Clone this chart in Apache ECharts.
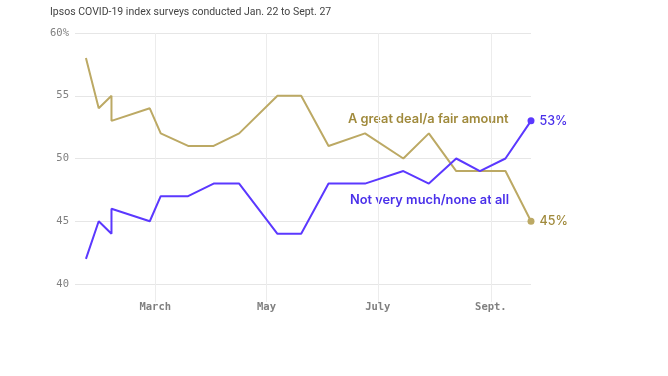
<!DOCTYPE html>
<html>
<head>
<meta charset="utf-8">
<script src="https://cdn.jsdelivr.net/npm/echarts@6/dist/echarts.min.js"></script>
<style>
  html, body { margin: 0; padding: 0; background: #fff; }
  #chart { width: 668px; height: 376px; }
</style>
</head>
<body>
<div id="chart"></div>
<script>
// survey dates (two waves on Feb. 6 give the vertical jump)
const surveyDates = [
  "2020-01-23", "2020-01-30", "2020-02-06", "2020-02-06", "2020-02-27",
  "2020-03-04", "2020-03-19", "2020-04-02", "2020-04-16", "2020-05-07",
  "2020-05-20", "2020-06-04", "2020-06-24", "2020-07-15", "2020-07-29",
  "2020-08-13", "2020-08-26", "2020-09-09", "2020-09-23",
];
const greatDeal = [58, 54, 55, 53, 54, 52, 51, 51, 52, 55, 55, 51, 52, 50, 52, 49, 49, 49, 45];
const notMuch = [42, 45, 44, 46, 45, 47, 47, 48, 48, 44, 44, 48, 48, 49, 48, 50, 49, 50, 53];

const tickDates = ["2020-03-01", "2020-05-01", "2020-07-01", "2020-09-01"];
const tickLabels = ["March", "May", "July", "Sept."];
const yTicks = [40, 45, 50, 55, 60];

const axisStart = "2020-01-17";
const axisEnd = "2020-09-23";

const GOLD = "#bca964";
const GOLD_TEXT = "#a08a3c";
const BLUE = "#5b38ff";
const BLUE_TEXT = "#4a30ea";

// one category per day so spacing follows the calendar
function dayList(start, end) {
  const out = [];
  let d = new Date(start + "T00:00:00Z");
  const stop = new Date(end + "T00:00:00Z");
  while (d <= stop) {
    out.push(d.toISOString().slice(0, 10));
    d = new Date(d.getTime() + 86400000);
  }
  return out;
}
const days = dayList(axisStart, axisEnd);
const isTick = (index, value) => tickDates.indexOf(value) >= 0;

function pairs(values) {
  return values.map((v, i) => [surveyDates[i], v]);
}

function lastPoint(values, color) {
  const i = values.length - 1;
  return {
    symbol: "circle",
    symbolSize: 7,
    silent: true,
    data: [{
      coord: [surveyDates[i], values[i]],
      itemStyle: { color: color },
      label: {
        show: true,
        position: "right",
        distance: 5,
        formatter: values[i] + "%",
        color: color === GOLD ? GOLD_TEXT : BLUE_TEXT,
        fontFamily: "Inter",
        fontSize: 12.5,
        fontWeight: 500,
      },
    }],
  };
}

const chart = echarts.init(document.getElementById("chart"));

const option = {
  animation: false,
  grid: { left: 75, right: 137, top: 33, bottom: 92 },
  title: {
    text: "Ipsos COVID-19 index surveys conducted Jan. 22 to Sept. 27",
    left: 45,
    top: 2,
    textStyle: { fontFamily: "Roboto", fontSize: 10.5, fontWeight: 400, color: "#444" },
  },
  graphic: [
    {
      type: "text",
      left: 348,
      top: 113,
      style: { text: "A great deal/a fair amount", fill: GOLD_TEXT, font: "600 12.8px Inter" },
    },
    {
      type: "text",
      left: 350,
      top: 194,
      style: { text: "Not very much/none at all", fill: BLUE_TEXT, font: "600 12.8px Inter" },
    },
  ],
  xAxis: {
    type: "category",
    data: days,
    boundaryGap: false,
    axisLine: { show: false },
    axisTick: { show: true, interval: isTick, length: 18, lineStyle: { color: "#ececec" } },
    splitLine: { show: true, interval: isTick, lineStyle: { color: "#ececec" } },
    axisLabel: {
      interval: isTick,
      margin: 18,
      formatter: (value) => tickLabels[tickDates.indexOf(value)],
      fontFamily: "DejaVu Sans Mono",
      fontSize: 10.5,
      fontWeight: 600,
      color: "#808080",
    },
  },
  yAxis: {
    type: "value",
    min: yTicks[0],
    max: yTicks[yTicks.length - 1],
    interval: 5,
    axisLine: { show: false },
    axisTick: { show: false },
    splitLine: { lineStyle: { color: "#e6e6e6" } },
    axisLabel: {
      margin: 6,
      formatter: (v) => (v === 60 ? v + "%" : v),
      fontFamily: "DejaVu Sans Mono",
      fontSize: 10.5,
      color: "#808080",
    },
  },
  series: [
    {
      name: "A great deal/a fair amount",
      type: "line",
      data: pairs(greatDeal),
      showSymbol: false,
      lineStyle: { color: GOLD, width: 2 },
      itemStyle: { color: GOLD },
      markPoint: lastPoint(greatDeal, GOLD),
    },
    {
      name: "Not very much/none at all",
      type: "line",
      data: pairs(notMuch),
      showSymbol: false,
      lineStyle: { color: BLUE, width: 2 },
      itemStyle: { color: BLUE },
      markPoint: lastPoint(notMuch, BLUE),
    },
  ],
};

chart.setOption(option);
</script>
</body>
</html>
